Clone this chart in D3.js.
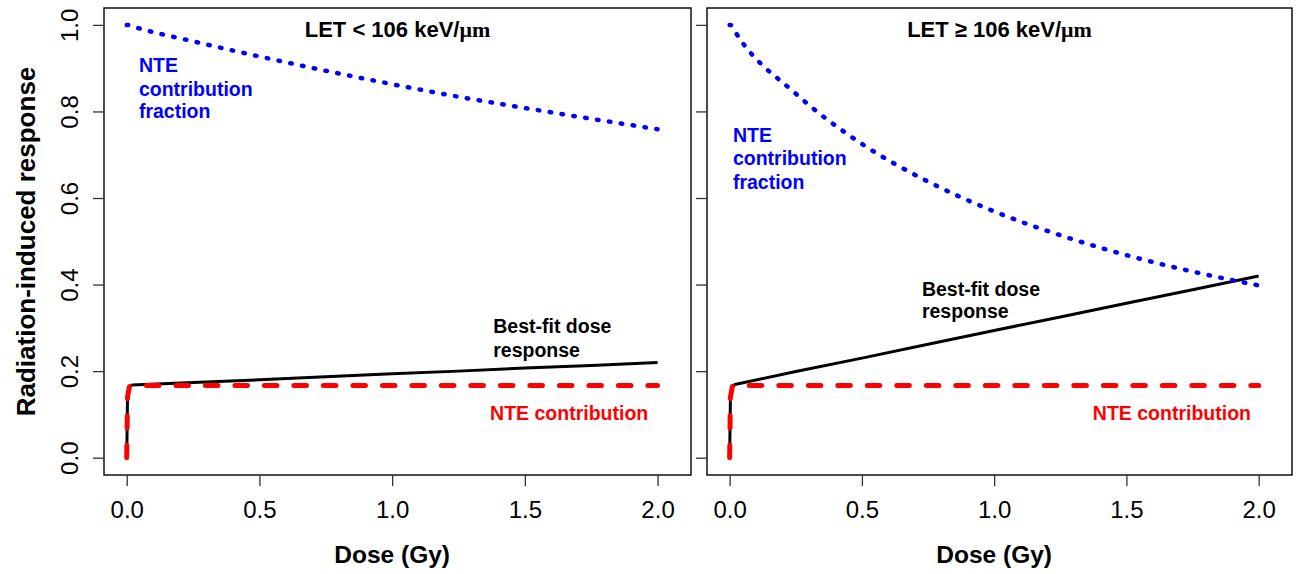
<!DOCTYPE html>
<html>
<head>
<meta charset="utf-8">
<script src="https://cdn.jsdelivr.net/npm/d3@7"></script>
<style>
  body { margin: 0; background: #fff; }
  svg { font-family: "Liberation Sans", Arial, sans-serif; }
</style>
</head>
<body>
<script>
// data
var dose = [0, 0.003, 0.01, 0.02, 0.25, 0.5, 0.75, 1.0, 1.25, 1.5, 1.75, 2.0];

// LET < 106 keV/um
var nteLow  = [0, 0.14, 0.164, 0.167, 0.167, 0.167, 0.167, 0.167, 0.167, 0.167, 0.167, 0.167];
var bestLow = [0, 0.14, 0.165, 0.168, 0.174, 0.180, 0.187, 0.194, 0.200, 0.207, 0.213, 0.220];
var fracLow = [1.0, 1.0, 0.999, 0.997, 0.962, 0.927, 0.894, 0.863, 0.834, 0.808, 0.783, 0.759];

// LET >= 106 keV/um
var nteHigh  = [0, 0.14, 0.164, 0.167, 0.167, 0.167, 0.167, 0.167, 0.167, 0.167, 0.167, 0.167];
var bestHigh = [0, 0.14, 0.166, 0.169, 0.199, 0.230, 0.262, 0.294, 0.325, 0.357, 0.388, 0.420];
var fracHigh = [1.0, 1.0, 0.995, 0.985, 0.841, 0.725, 0.638, 0.569, 0.514, 0.468, 0.430, 0.398];

var xTicks = [0, 0.5, 1.0, 1.5, 2.0];
var yTicks = [0, 0.2, 0.4, 0.6, 0.8, 1.0];
var titles = ["LET < 106 keV/", "LET \u2265 106 keV/"];

var width = 1299, height = 574;
var top_ = 8, bottom = 475;
var panels = [
    {left: 104, right: 691, nte: nteLow, best: bestLow, frac: fracLow, title: titles[0], yLabels: true,
     fracLab: [0.046, [0.892, 0.836, 0.784]], bestLab: [1.381, [0.288, 0.233]], nteLab: [1.369, 0.087]},
    {left: 707, right: 1292, nte: nteHigh, best: bestHigh, frac: fracHigh, title: titles[1], yLabels: false,
     fracLab: [0.0125, [0.730, 0.676, 0.621]], bestLab: [0.727, [0.374, 0.323]], nteLab: [1.373, 0.087]}
];

var svg = d3.select("body").append("svg")
    .attr("width", width)
    .attr("height", height);

var y = d3.scaleLinear().domain([-0.04, 1.039]).range([bottom, top_]);

panels.forEach(function(p) {
    var x = d3.scaleLinear().domain([-0.0856, 2.126]).range([p.left, p.right]);
    var g = svg.append("g");

    // box
    g.append("rect")
        .attr("x", p.left).attr("y", top_)
        .attr("width", p.right - p.left).attr("height", bottom - top_)
        .attr("fill", "none").attr("stroke", "#000").attr("stroke-width", 1.4);

    // x axis
    var xa = g.append("g")
        .attr("transform", "translate(0," + bottom + ")")
        .call(d3.axisBottom(x).tickValues(xTicks).tickFormat(d3.format(".1f"))
            .tickSize(11).tickSizeOuter(0).tickPadding(15));
    xa.select(".domain").remove();
    xa.selectAll("line").attr("stroke", "#333").attr("stroke-width", 1.3);
    xa.selectAll("text").attr("font-size", 24).attr("fill", "#000")
        .attr("font-family", "Liberation Sans, Arial, sans-serif");

    // y axis
    var ya = g.append("g")
        .attr("transform", "translate(" + p.left + ",0)")
        .call(d3.axisLeft(y).tickValues(yTicks).tickFormat(d3.format(".1f"))
            .tickSize(11).tickSizeOuter(0));
    ya.select(".domain").remove();
    ya.selectAll("line").attr("stroke", "#333").attr("stroke-width", 1.3);
    if (p.yLabels) {
        ya.selectAll("text")
            .attr("font-size", 24).attr("fill", "#000")
            .attr("font-family", "Liberation Sans, Arial, sans-serif")
            .attr("transform", "rotate(-90)")
            .attr("text-anchor", "middle")
            .attr("x", 0).attr("y", -26).attr("dy", 0);
    } else {
        ya.selectAll("text").remove();
    }

    var line = function(vals, curve) {
        return d3.line()
            .x(function(d, i) { return x(dose[i]); })
            .y(function(d) { return y(d); })
            .curve(curve)(vals);
    };

    // best-fit dose response
    g.append("path").attr("d", line(p.best, d3.curveLinear))
        .attr("fill", "none").attr("stroke", "#000").attr("stroke-width", 3)
        .attr("stroke-linejoin", "round");
    // NTE contribution
    g.append("path").attr("d", line(p.nte, d3.curveLinear))
        .attr("fill", "none").attr("stroke", "#ff0000").attr("stroke-width", 5)
        .attr("stroke-dasharray", "12.5,17").attr("stroke-linecap", "round")
        .attr("stroke-linejoin", "round");
    // NTE contribution fraction
    g.append("path").attr("d", line(p.frac, d3.curveMonotoneX))
        .attr("fill", "none").attr("stroke", "#0000ff").attr("stroke-width", 4.5)
        .attr("stroke-dasharray", "1.5,10.5").attr("stroke-linecap", "round");

    // panel title
    var t = g.append("text")
        .attr("x", (p.left + p.right) / 2).attr("y", 36.5)
        .attr("text-anchor", "middle")
        .attr("font-size", 22).attr("font-weight", "bold");
    t.append("tspan").text(p.title);
    t.append("tspan").text("\u03bcm").attr("font-family", "Liberation Serif, Times New Roman, serif");

    // annotations
    ["NTE", "contribution", "fraction"].forEach(function(s, i) {
        g.append("text").attr("x", x(p.fracLab[0])).attr("y", y(p.fracLab[1][i]))
            .attr("font-size", 19.5).attr("font-weight", "bold").attr("fill", "#0000ff").text(s);
    });
    ["Best-fit dose", "response"].forEach(function(s, i) {
        g.append("text").attr("x", x(p.bestLab[0])).attr("y", y(p.bestLab[1][i]))
            .attr("font-size", 19.5).attr("font-weight", "bold").attr("fill", "#000").text(s);
    });
    g.append("text").attr("x", x(p.nteLab[0])).attr("y", y(p.nteLab[1]))
        .attr("font-size", 19.5).attr("font-weight", "bold").attr("fill", "#ff0000")
        .text("NTE contribution");

    // x title
    g.append("text")
        .attr("x", x(1)).attr("y", 563)
        .attr("text-anchor", "middle")
        .attr("font-size", 24.5).attr("font-weight", "bold")
        .text("Dose (Gy)");
});

// y title
svg.append("text")
    .attr("transform", "translate(35," + (top_ + bottom) / 2 + "),rotate(-90)")
    .attr("text-anchor", "middle")
    .attr("font-size", 26).attr("font-weight", "bold")
    .text("Radiation-induced response");
</script>
</body>
</html>
